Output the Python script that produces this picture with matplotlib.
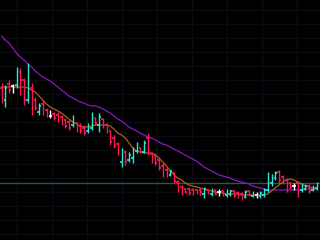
import numpy as np
import matplotlib
matplotlib.use("Agg")
import matplotlib.pyplot as plt

# OHLC prices (arbitrary price units)
opens = [152, 140, 156, 154, 155, 168, 160, 140, 152, 140, 128, 136, 130, 124, 126, 125, 123, 120, 118, 115,
         117, 114, 112, 109, 112, 122, 115, 121, 115, 109, 102, 96, 78, 88, 80, 82, 89, 92, 88, 102,
         86, 84, 80, 74, 70, 65, 67, 58, 53, 51, 51, 50, 50, 50, 46, 50, 46, 50, 48, 49,
         45, 46, 49, 47, 46, 43, 49, 44, 45, 44, 45, 50, 57, 62, 68, 63, 60, 57, 54, 57,
         50, 51, 54, 50, 52]
highs = [157, 155, 160, 156, 173, 172, 162, 177, 157, 143, 137, 140, 132, 130, 128, 128, 125, 122, 120, 125,
         118, 117, 115, 117, 128, 123, 127, 122, 117, 110, 105, 98, 92, 90, 88, 93, 98, 93, 100, 107,
         88, 87, 83, 77, 73, 70, 68, 60, 55, 52, 53, 52, 51, 52, 53, 51, 52, 51, 51, 50,
         51, 50, 50, 49, 48, 50, 50, 49, 48, 49, 52, 68, 66, 69, 70, 65, 62, 58, 57, 59,
         57, 56, 56, 55, 58]
lows = [137, 133, 147, 147, 152, 145, 135, 137, 125, 130, 125, 125, 123, 122, 120, 118, 115, 112, 110, 113,
        108, 107, 105, 107, 110, 115, 108, 112, 107, 95, 92, 85, 73, 75, 78, 77, 87, 87, 87, 85,
        77, 75, 70, 63, 63, 64, 57, 48, 45, 47, 45, 45, 46, 45, 42, 46, 44, 45, 44, 44,
        43, 44, 43, 42, 40, 42, 44, 43, 42, 42, 43, 48, 54, 60, 57, 56, 48, 51, 50, 43,
        48, 50, 47, 49, 50]
closes = [143, 152, 150, 154, 168, 160, 140, 154, 130, 132, 134, 128, 125, 124, 122, 120, 118, 114, 112, 123,
          110, 109, 107, 115, 123, 117, 123, 114, 109, 98, 94, 87, 88, 78, 85, 90, 95, 88, 97, 87,
          79, 77, 72, 65, 65, 69, 59, 50, 47, 48, 47, 47, 47, 48, 51, 47, 50, 46, 48, 45,
          49, 49, 44, 43, 42, 48, 45, 47, 45, 47, 50, 65, 63, 67, 60, 58, 52, 53, 54, 46,
          55, 54, 49, 53, 56]

# moving averages
ma_short = [153, 153, 153, 153, 153, 153, 153, 152, 150, 148, 144, 140, 136, 133, 131, 129, 127, 124, 121, 118,
            116, 114, 113, 113, 114, 115, 115, 115, 115, 114, 111, 107, 105, 102, 97, 92, 89, 88, 87, 87,
            87, 85, 82, 78, 74, 69, 65, 62, 60, 57, 55, 54, 53, 52, 51, 50, 49, 48, 47, 47,
            46, 46, 46, 46, 45, 45, 45, 45, 45, 45, 45, 46, 49, 52, 55, 58, 60, 61, 60, 58,
            56, 54, 53, 52, 51]
ma_long = [204, 200, 197, 192, 187, 183, 180, 176, 173, 169, 166, 163, 161, 159, 156, 153, 150, 147, 144, 142,
           140, 138, 137, 135, 134, 134, 133, 131, 129, 127, 124, 121, 119, 116, 113, 111, 109, 107, 105, 103,
           102, 100, 98, 96, 95, 93, 91, 89, 87, 85, 83, 81, 79, 76, 73, 71, 69, 67, 65, 64,
           63, 62, 60, 59, 58, 57, 56, 54, 53, 52, 51, 50, 50, 50, 50, 50, 50, 50, 50, 50,
           50, 51, 51, 51, 51]
ref_level = 57

UP = "#2ee6d2"
DOWN = "#ff1655"
FLAT = "#ffffff"

n = len(opens)
x = np.arange(n)
o = np.array(opens); h = np.array(highs); l = np.array(lows); c = np.array(closes)

fig = plt.figure(figsize=(3.2, 2.4), dpi=100)
fig.patch.set_facecolor("#000000")
ax = fig.add_axes([0, 0, 1, 1])
ax.set_facecolor("#000000")

px = 3.75  # pixels per bar
x0 = -1.5 / px
ax.set_xlim(x0, x0 + 320 / px)
ax.set_ylim(0, 240)

# grid
for gx in np.arange(17, 320, 35):
    ax.axvline(x0 + gx / px, color="#0b0b14", lw=1.0, zorder=0)
for gy in np.arange(6, 240, 14):
    ax.axhline(gy, color="#0b0b14", lw=1.0, zorder=0)

ax.axhline(ref_level, color="#2c5656", lw=1.0, zorder=1)

ax.plot(x, ma_long, color="#8a18b8", lw=0.9, zorder=2)
ax.plot(x, ma_short, color="#b0600c", lw=0.9, zorder=2)

colors = [UP if cc > oo else (DOWN if cc < oo else FLAT) for oo, cc in zip(o, c)]
ax.vlines(x, l, h, colors=colors, lw=1.0, zorder=3)
ax.hlines(o, x - 0.45, x, colors=colors, lw=1.2, zorder=3)
ax.hlines(c, x, x + 0.45, colors=colors, lw=1.2, zorder=3)

ax.axis("off")
fig.savefig("out.png", dpi=100, facecolor=fig.get_facecolor())
